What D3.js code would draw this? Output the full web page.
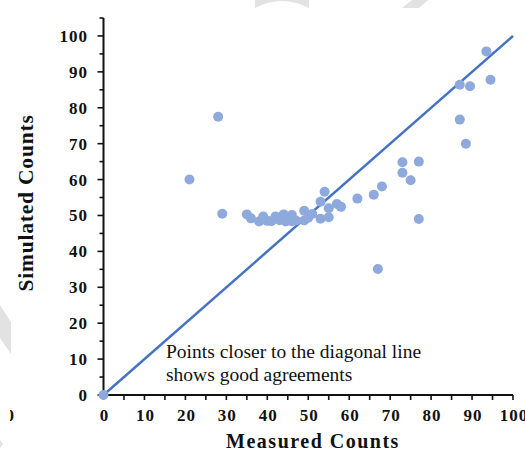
<!DOCTYPE html>
<html>
<head>
<meta charset="utf-8">
<script src="https://cdn.jsdelivr.net/npm/d3@7"></script>
<style>
  html, body { margin: 0; padding: 0; background: #fff; }
  svg { display: block; }
  .tick-label { font-family: "Liberation Serif", "Times New Roman", serif; font-weight: bold; font-size: 17px; fill: #111; }
  .axis-title { font-family: "Liberation Serif", "Times New Roman", serif; font-weight: bold; fill: #111; }
  .note { font-family: "Liberation Serif", "Times New Roman", serif; font-size: 19.5px; fill: #111; }
</style>
</head>
<body>
<svg id="chart" width="525" height="451"></svg>
<script>
// Measured vs simulated counts
const measured = [0, 21, 28, 29, 35, 36, 38, 39, 40, 41, 42, 43, 44, 44.5, 46, 46, 47, 49, 49, 50, 51, 53, 53, 54, 55, 55, 57, 58, 62, 66, 67, 68, 73, 73, 75, 77, 77, 87, 87, 88.5, 89.5, 93.5, 94.5];
const simulated = [0, 60, 77.5, 50.5, 50.3, 49.2, 48.3, 49.7, 48.5, 48.4, 49.7, 48.7, 50.3, 48.3, 50.1, 48.4, 48.6, 51.3, 48.6, 49.4, 50.4, 53.8, 49.1, 56.6, 52, 49.5, 53.2, 52.4, 54.7, 55.8, 35.1, 58.1, 64.8, 61.9, 59.8, 65, 49, 86.4, 76.7, 70, 86, 95.7, 87.8];

const xTicks = [0, 10, 20, 30, 40, 50, 60, 70, 80, 90, 100];
const yTicks = [0, 10, 20, 30, 40, 50, 60, 70, 80, 90, 100];
const xMinor = d3.range(5, 100, 10);
const yMinor = d3.range(5, 110, 10);
const diagonal = [0, 100];

const svg = d3.select("#chart");

const x = d3.scaleLinear().domain([0, 100]).range([103.5, 513]);
const y = d3.scaleLinear().domain([0, 105]).range([395, 18]);

// faint background marks
const wm = svg.append("g").attr("fill", "#e2e2e2");
wm.append("path").attr("d", "M255,8 Q282,-6 309,8 L309,0 L255,0 Z");
wm.append("path").attr("d", "M402,8 L412,0 L428,0 L419,8 Z");
wm.append("path").attr("d", "M0,305 L11,322 L11,354 L0,338 Z");
wm.append("path").attr("d", "M0,440 L3,444 L0,448 Z");

// y axis
const yAxis = svg.append("g").attr("stroke", "#111");
yAxis.append("line")
  .attr("x1", x(0)).attr("x2", x(0))
  .attr("y1", y(105)).attr("y2", y(0))
  .attr("stroke-width", 2);
yAxis.selectAll(".ymaj").data(yTicks).join("line")
  .attr("x1", x(0) - 6).attr("x2", x(0))
  .attr("y1", d => y(d)).attr("y2", d => y(d))
  .attr("stroke-width", 1.6);
yAxis.selectAll(".ymin").data(yMinor).join("line")
  .attr("x1", x(0) - 4).attr("x2", x(0))
  .attr("y1", d => y(d)).attr("y2", d => y(d))
  .attr("stroke-width", 1.6);

svg.append("g").selectAll("text").data(yTicks).join("text")
  .attr("class", "tick-label")
  .attr("x", 88)
  .attr("y", d => y(d) + 6)
  .attr("text-anchor", "end")
  .attr("letter-spacing", "1px")
  .text(d => d);

// x axis
const xAxis = svg.append("g").attr("stroke", "#111");
xAxis.append("line")
  .attr("x1", x(0)).attr("x2", x(100))
  .attr("y1", y(0)).attr("y2", y(0))
  .attr("stroke-width", 2);
xAxis.selectAll(".xmaj").data(xTicks.concat(xMinor)).join("line")
  .attr("x1", d => x(d)).attr("x2", d => x(d))
  .attr("y1", y(0)).attr("y2", y(0) + 5)
  .attr("stroke-width", 1.6);

svg.append("g").selectAll("text").data(xTicks).join("text")
  .attr("class", "tick-label")
  .attr("x", d => x(d) + 1)
  .attr("y", 421)
  .attr("text-anchor", "middle")
  .attr("letter-spacing", "1px")
  .text(d => d);

// clipped label fragment at left edge
svg.append("clipPath").attr("id", "edge")
  .append("rect").attr("x", 10).attr("y", 400).attr("width", 10).attr("height", 30);
svg.append("text")
  .attr("class", "tick-label")
  .attr("x", 14).attr("y", 421)
  .attr("text-anchor", "end")
  .attr("clip-path", "url(#edge)")
  .text("0");

// axis titles
svg.append("text")
  .attr("class", "axis-title")
  .attr("x", 313).attr("y", 448)
  .attr("text-anchor", "middle")
  .attr("font-size", "20px")
  .attr("letter-spacing", "1.5px")
  .text("Measured Counts");

svg.append("text")
  .attr("class", "axis-title")
  .attr("transform", "translate(33,203) rotate(-90)")
  .attr("text-anchor", "middle")
  .attr("font-size", "21.5px")
  .attr("letter-spacing", "0.8px")
  .text("Simulated Counts");

// 1:1 line
svg.append("line")
  .attr("x1", x(diagonal[0])).attr("y1", y(diagonal[0]))
  .attr("x2", x(diagonal[1])).attr("y2", y(diagonal[1]))
  .attr("stroke", "#4472c4")
  .attr("stroke-width", 2.5);

// data points
svg.append("g").selectAll("circle").data(measured).join("circle")
  .attr("cx", (d) => x(d))
  .attr("cy", (d, i) => y(simulated[i]))
  .attr("r", 5)
  .attr("fill", "#8eaadc");

// note
const note = svg.append("text").attr("class", "note");
note.append("tspan").attr("x", 166).attr("y", 358).text("Points closer to the diagonal line");
note.append("tspan").attr("x", 166).attr("y", 381).text("shows good agreements");
</script>
</body>
</html>
